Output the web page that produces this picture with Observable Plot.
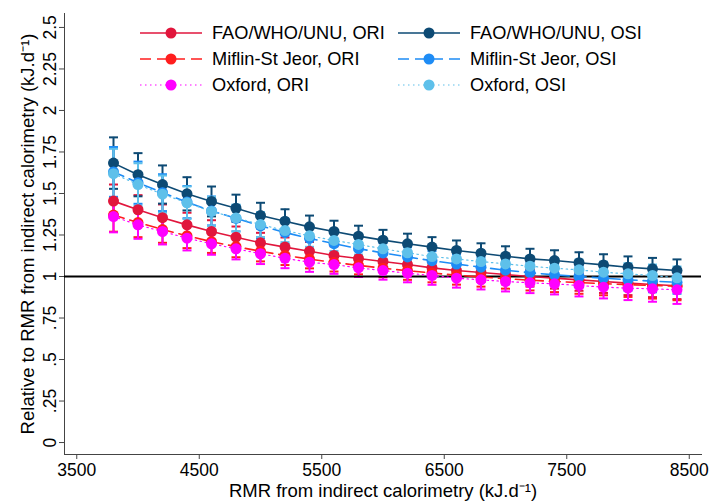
<!DOCTYPE html>
<html><head><meta charset="utf-8">
<script src="https://cdn.jsdelivr.net/npm/d3@7"></script>
<script src="https://cdn.jsdelivr.net/npm/@observablehq/plot@0.6"></script>
<style>
body{margin:0;background:#fff;}
#wrap{position:relative;width:710px;height:501px;font-family:"Liberation Sans",Arial,sans-serif;}
.item{position:absolute;display:flex;align-items:center;font-size:18.2px;color:#000;height:20px;}
.item span{margin-left:10px;white-space:nowrap;}
</style></head><body><div id="wrap"></div><script>
// ---- data ----
const rmr = [3800,4000,4200,4400,4600,4800,5000,5200,5400,5600,5800,6000,6200,6400,6600,6800,7000,7200,7400,7600,7800,8000,8200,8400];
const xTicks = [3500,4500,5500,6500,7500,8500];
const yTicks = [0,0.25,0.5,0.75,1,1.25,1.5,1.75,2,2.25,2.5];

const faoOri = [1.454,1.402,1.354,1.311,1.271,1.237,1.203,1.177,1.152,1.127,1.108,1.09,1.072,1.052,1.036,1.024,1.012,1.0,0.99,0.98,0.97,0.96,0.952,0.944];
const faoOriCi = [0.1,0.088,0.08,0.073,0.068,0.064,0.06,0.058,0.056,0.055,0.054,0.054,0.054,0.055,0.056,0.057,0.059,0.061,0.063,0.066,0.069,0.072,0.076,0.08];
const mifOri = [1.37,1.325,1.283,1.245,1.21,1.18,1.152,1.127,1.105,1.085,1.067,1.05,1.035,1.021,1.008,0.997,0.987,0.978,0.97,0.963,0.957,0.951,0.946,0.942];
const mifOriCi = [0.1,0.088,0.08,0.074,0.068,0.064,0.061,0.058,0.056,0.055,0.054,0.054,0.055,0.056,0.057,0.058,0.06,0.062,0.064,0.067,0.07,0.074,0.079,0.085];
const oxfOri = [1.361,1.311,1.271,1.231,1.197,1.167,1.137,1.11,1.086,1.072,1.052,1.036,1.02,1.006,0.99,0.98,0.97,0.962,0.956,0.946,0.936,0.93,0.926,0.92];
const oxfOriCi = [0.095,0.084,0.078,0.074,0.066,0.064,0.062,0.06,0.058,0.056,0.055,0.055,0.055,0.056,0.057,0.058,0.06,0.062,0.064,0.066,0.068,0.072,0.078,0.085];
const faoOsi = [1.683,1.613,1.554,1.498,1.452,1.411,1.367,1.333,1.299,1.271,1.243,1.219,1.197,1.177,1.157,1.14,1.122,1.106,1.096,1.083,1.07,1.056,1.046,1.036];
const faoOsiCi = [0.155,0.13,0.115,0.1,0.09,0.082,0.077,0.072,0.068,0.065,0.063,0.062,0.061,0.06,0.06,0.06,0.06,0.061,0.062,0.063,0.064,0.065,0.066,0.067];
const mifOsi = [1.63,1.565,1.505,1.448,1.395,1.35,1.305,1.265,1.23,1.198,1.168,1.142,1.118,1.095,1.075,1.056,1.038,1.023,1.01,1.0,0.99,0.98,0.972,0.965];
const mifOsiCi = [0.15,0.127,0.111,0.097,0.087,0.079,0.074,0.069,0.065,0.062,0.06,0.059,0.058,0.058,0.058,0.058,0.059,0.06,0.061,0.062,0.063,0.065,0.067,0.069];
const oxfOsi = [1.619,1.554,1.496,1.444,1.392,1.353,1.313,1.277,1.245,1.217,1.193,1.167,1.143,1.12,1.106,1.09,1.076,1.062,1.05,1.04,1.026,1.016,1.006,0.992];
const oxfOsiCi = [0.15,0.128,0.112,0.098,0.088,0.08,0.075,0.07,0.066,0.063,0.061,0.06,0.059,0.058,0.058,0.058,0.059,0.06,0.061,0.062,0.063,0.064,0.066,0.068];

const seriesNames = ["FAO/WHO/UNU, ORI","Miflin-St Jeor, ORI","Oxford, ORI","FAO/WHO/UNU, OSI","Miflin-St Jeor, OSI","Oxford, OSI"];
const seriesValues = [faoOri, mifOri, oxfOri, faoOsi, mifOsi, oxfOsi];
const seriesCis = [faoOriCi, mifOriCi, oxfOriCi, faoOsiCi, mifOsiCi, oxfOsiCi];
const seriesColors = ["#e1163c","#ff1e1e","#ff00ff","#0d4a74","#1e8cf5","#5ec0ea"];
const seriesDash = [null,"11,6","1.5,3.5",null,"11,6","1.5,3.5"];
const seriesWidth = [1.6,1.6,1.2,1.6,1.6,1.2];
// drawing order
const drawOrder = [0,3,1,4,2,5];

// ---- build table ----
const rows = [];
seriesValues.forEach((vals, s) => vals.forEach((v, i) => rows.push({s, x: rmr[i], y: v, lo: v - seriesCis[s][i], hi: v + seriesCis[s][i]})));

const capSymbol = {draw(ctx){ ctx.moveTo(-4.5,0); ctx.lineTo(4.5,0); }};
const fmt = d => d === 0 ? "0" : String(d).replace(/^0\./, ".");

const marks = [
  Plot.frame({anchor:"left", stroke:"#444"}),
  Plot.frame({anchor:"bottom", stroke:"#444"}),
  Plot.axisY({ticks: yTicks, tickFormat: fmt, tickSize: 5, tickPadding: 4, tickRotate: -90, stroke:"#444", fontSize: 17.5, label: null}),
  Plot.axisY({ticks: [], tickSize: 0, fontSize: 18.5,
    label: "Relative to RMR from indirect calorimetry (kJ.d⁻¹)", labelAnchor: "center", labelOffset: 44, labelArrow: "none"}),
  Plot.axisX({ticks: xTicks, tickFormat: d => String(d), tickSize: 5, tickPadding: 4, stroke:"#444", fontSize: 17.5, label: null}),
  Plot.axisX({ticks: [], tickSize: 0, fontSize: 18.5,
    label: "RMR from indirect calorimetry (kJ.d⁻¹)", labelAnchor: "center", labelOffset: 42, labelArrow: "none"}),
];
for (const s of drawOrder) {
  const d = rows.filter(r => r.s === s);
  const c = seriesColors[s];
  marks.push(Plot.ruleX(d, {x: "x", y1: "lo", y2: "hi", stroke: c, strokeWidth: 2}));
  marks.push(Plot.dot(d, {x: "x", y: "lo", symbol: capSymbol, stroke: c, fill: "none", strokeWidth: 2}));
  marks.push(Plot.dot(d, {x: "x", y: "hi", symbol: capSymbol, stroke: c, fill: "none", strokeWidth: 2}));
}
marks.push(Plot.ruleY([1], {stroke: "black", strokeWidth: 2}));
for (const s of drawOrder) {
  const d = rows.filter(r => r.s === s);
  const c = seriesColors[s];
  marks.push(Plot.line(d, {x: "x", y: "y", stroke: c, strokeWidth: seriesWidth[s], strokeDasharray: seriesDash[s]}));
  marks.push(Plot.dot(d, {x: "x", y: "y", r: 5.5, fill: c, stroke: "none"}));
}

const chart = Plot.plot({
  width: 710, height: 501,
  marginLeft: 64, marginRight: 9, marginTop: 13, marginBottom: 47,
  style: {fontSize: "17.5px", fontFamily: '"Liberation Sans", Arial, sans-serif', color: "#000", background: "#fff"},
  x: {domain: [3400, 8600]},
  y: {domain: [-0.072, 2.584]},
  marks
});
const wrap = document.getElementById("wrap");
wrap.appendChild(chart);

// ---- legend ----
const legendOrder = [0,3,1,4,2,5];
legendOrder.forEach((s, k) => {
  const col = k % 2, row = Math.floor(k / 2);
  const div = document.createElement("div");
  div.className = "item";
  div.style.left = (col ? 398 : 140) + "px";
  div.style.top = (23 + row * 26) + "px";
  const dash = seriesDash[s] ? `stroke-dasharray="${seriesDash[s]}"` : "";
  div.innerHTML = `<svg width="62" height="20"><line x1="0" x2="62" y1="10" y2="10" stroke="${seriesColors[s]}" stroke-width="${seriesWidth[s]}" ${dash}/><circle cx="31" cy="10" r="5.5" fill="${seriesColors[s]}"/></svg><span>${seriesNames[s]}</span>`;
  wrap.appendChild(div);
});
</script></body></html>
